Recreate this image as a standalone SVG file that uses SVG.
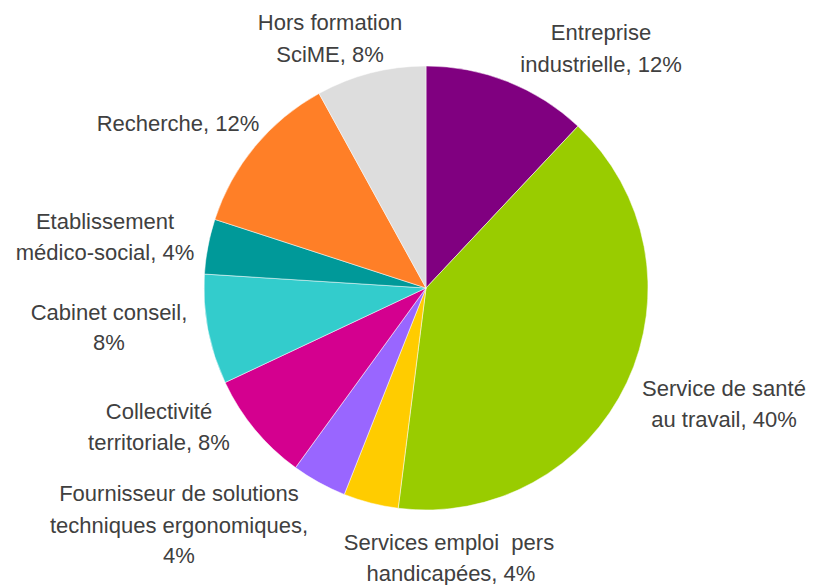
<svg xmlns="http://www.w3.org/2000/svg" width="814" height="585" viewBox="0 0 814 585">
<style>
text{font-family:"Liberation Sans",Arial,sans-serif;font-size:22px;fill:#404040;text-anchor:middle;white-space:pre}
.s{stroke:#ffffff;stroke-width:0.5}
</style>
<rect width="814" height="585" fill="#ffffff"/>
<g id="slices">
<g id="entreprise"><path class="s" d="M426,288 L426,66 A222,222 0 0 1 577.96,126.16 Z" fill="#800080"/></g>
<g id="sante"><path class="s" d="M426,288 L577.96,126.16 A222,222 0 0 1 398.18,508.25 Z" fill="#99CC00"/></g>
<g id="emploi"><path class="s" d="M426,288 L398.18,508.25 A222,222 0 0 1 344.28,494.42 Z" fill="#FFCC00"/></g>
<g id="fournisseur"><path class="s" d="M426,288 L344.28,494.42 A222,222 0 0 1 295.51,467.61 Z" fill="#9966FF"/></g>
<g id="collectivite"><path class="s" d="M426,288 L295.51,467.61 A222,222 0 0 1 225.13,382.52 Z" fill="#D4008F"/></g>
<g id="cabinet"><path class="s" d="M426,288 L225.13,382.52 A222,222 0 0 1 204.44,274.06 Z" fill="#33CCCC"/></g>
<g id="etablissement"><path class="s" d="M426,288 L204.44,274.06 A222,222 0 0 1 214.86,219.40 Z" fill="#009999"/></g>
<g id="recherche"><path class="s" d="M426,288 L214.86,219.40 A222,222 0 0 1 319.04,93.47 Z" fill="#FF7F27"/></g>
<g id="hors"><path class="s" d="M426,288 L319.04,93.47 A222,222 0 0 1 426,66 Z" fill="#DDDDDD"/></g>
</g>
<g id="labels">
<text x="601" y="40">Entreprise</text>
<text x="601" y="72">industrielle, 12%</text>
<text x="724" y="396">Service de santé</text>
<text x="724" y="427">au travail, 40%</text>
<text x="449" y="550" xml:space="preserve">Services emploi  pers</text>
<text x="451" y="581">handicapées, 4%</text>
<text x="179" y="501">Fournisseur de solutions</text>
<text x="179" y="533">techniques ergonomiques,</text>
<text x="179" y="563">4%</text>
<text x="159" y="419">Collectivité</text>
<text x="159" y="450">territoriale, 8%</text>
<text x="109" y="320">Cabinet conseil,</text>
<text x="109" y="350">8%</text>
<text x="105" y="229">Etablissement</text>
<text x="105" y="260">médico-social, 4%</text>
<text x="178" y="131">Recherche, 12%</text>
<text x="330" y="30">Hors formation</text>
<text x="330" y="62">SciME, 8%</text>
</g>
</svg>
